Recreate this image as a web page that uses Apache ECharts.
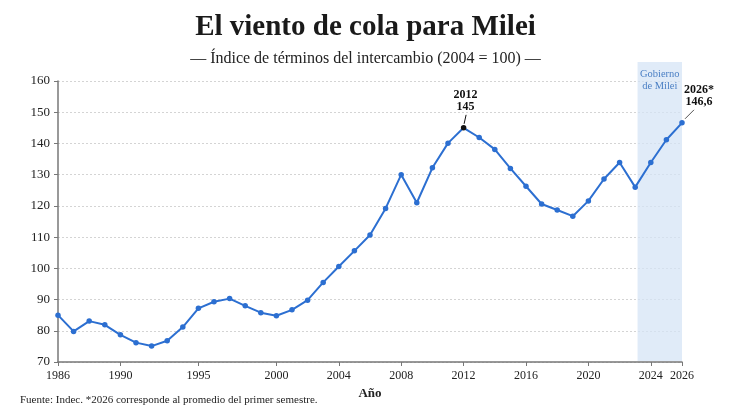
<!DOCTYPE html>
<html>
<head>
<meta charset="utf-8">
<script src="https://cdn.jsdelivr.net/npm/echarts@6/dist/echarts.min.js"></script>
<style>
  html, body { margin: 0; background: #fff; }
  #chart { width: 731px; height: 415px; }
</style>
</head>
<body>
<div id="chart"></div>
<script>
'use strict';
// Índice de términos del intercambio (2004 = 100)
const years = [];
for (let y = 1986; y <= 2026; y++) years.push(y);
const values = [
    85.0, 79.8, 83.1, 81.9, 78.7, 76.2, 75.1, 76.8, 81.2, 87.2,
    89.3, 90.3, 88.0, 85.8, 84.8, 86.7, 89.8, 95.5, 100.6, 105.6,
    110.7, 119.2, 130.0, 121.0, 132.2, 140.1, 145.0, 141.9, 138.1, 132.0,
    126.3, 120.6, 118.7, 116.7, 121.6, 128.6, 133.9, 126.0, 133.9, 141.2,
    146.6
];
const xTicks = [1986, 1990, 1995, 2000, 2004, 2008, 2012, 2016, 2020, 2024, 2026];
const mileiStart = 2023.15;
const mileiEnd = 2026;
const highlightYears = [2012, 2026];
const highlightLabels = [['2012', '145'], ['2026*', '146,6']];

const SERIF = '"Liberation Serif", "DejaVu Serif", serif';
const BLUE = '#2c6fd1';

const chart = echarts.init(document.getElementById('chart'));

const seriesData = years.map((y, i) => {
    const item = { value: [y, values[i]] };
    if (y === 2012) item.itemStyle = { color: '#111' };
    return item;
});

chart.setOption({
    animation: false,
    title: {
        text: 'El viento de cola para Milei',
        subtext: '— Índice de términos del intercambio (2004 = 100) —',
        left: 'center',
        top: 8,
        itemGap: 9,
        textStyle: { fontFamily: SERIF, fontSize: 29, fontWeight: 'bold', color: '#1a1a1a' },
        subtextStyle: { fontFamily: SERIF, fontSize: 16, color: '#222' }
    },
    grid: { left: 58, right: 49, top: 81, bottom: 53 },
    xAxis: {
        type: 'value',
        min: 1986,
        max: 2026,
        name: 'Año',
        nameLocation: 'middle',
        nameGap: 23,
        nameTextStyle: { fontFamily: SERIF, fontSize: 13, fontWeight: 'bold', color: '#222' },
        axisLine: { lineStyle: { color: '#777', width: 1.5 } },
        axisTick: { customValues: xTicks, length: 4, lineStyle: { color: '#777' } },
        axisLabel: {
            customValues: xTicks,
            formatter: v => String(v),
            fontFamily: SERIF, fontSize: 12, color: '#222', margin: 8
        },
        splitLine: { show: false }
    },
    yAxis: {
        type: 'value',
        min: 70,
        max: 160,
        interval: 10,
        axisLine: { show: true, lineStyle: { color: '#777', width: 1.5 } },
        axisTick: { show: true, length: 4, lineStyle: { color: '#777' } },
        axisLabel: { fontFamily: SERIF, fontSize: 13, color: '#222', margin: 8 },
        splitLine: { lineStyle: { color: '#d4d4d4', type: [2, 2] } }
    },
    series: [{
        type: 'line',
        data: seriesData,
        symbol: 'circle',
        symbolSize: 5.5,
        lineStyle: { color: BLUE, width: 2 },
        itemStyle: { color: BLUE },
        z: 3
    }]
});

// band, notes and leader lines placed through the axes' own scales
const px = (x, y) => chart.convertToPixel({ gridIndex: 0 }, [x, y]);
const bandL = px(mileiStart, 70);
const bandR = px(mileiEnd, 70);
const topY = px(mileiStart, 160)[1] - 19;
const graphics = [
    {
        type: 'rect', z: 1, silent: true,
        shape: { x: bandL[0], y: topY, width: bandR[0] - bandL[0], height: bandL[1] - topY - 1 },
        style: { fill: 'rgba(214, 228, 246, 0.75)' }
    },
    {
        type: 'text', z: 4,
        x: (bandL[0] + bandR[0]) / 2, y: topY + 6,
        style: {
            text: 'Gobierno\nde Milei', fill: '#4a7fc4', font: '10.5px ' + SERIF,
            textAlign: 'center', textVerticalAlign: 'top', lineHeight: 12
        }
    },
    {
        type: 'text', z: 4,
        x: 20, y: 400,
        style: {
            text: 'Fuente: Indec. *2026 corresponde al promedio del primer semestre.',
            fill: '#222', font: '11px ' + SERIF, textVerticalAlign: 'middle'
        }
    }
];

highlightYears.forEach((yr, k) => {
    const p = px(yr, values[years.indexOf(yr)]);
    const last = k === highlightYears.length - 1;
    const from = last ? [p[0] + 3, p[1] - 4] : [p[0] + 0.5, p[1] - 4];
    const to = last ? [p[0] + 12, p[1] - 13] : [p[0] + 2.5, p[1] - 13];
    graphics.push({
        type: 'line', z: 4,
        shape: { x1: from[0], y1: from[1], x2: to[0], y2: to[1] },
        style: { stroke: last ? '#555' : '#111', lineWidth: 1 }
    });
    graphics.push({
        type: 'text', z: 4,
        x: last ? p[0] + 17 : p[0] + 2,
        y: p[1] - 15,
        style: {
            text: highlightLabels[k].join('\n'),
            fill: '#111', font: 'bold 12px ' + SERIF,
            textAlign: 'center', textVerticalAlign: 'bottom', lineHeight: 12
        }
    });
});

chart.setOption({ graphic: graphics });
</script>
</body>
</html>
